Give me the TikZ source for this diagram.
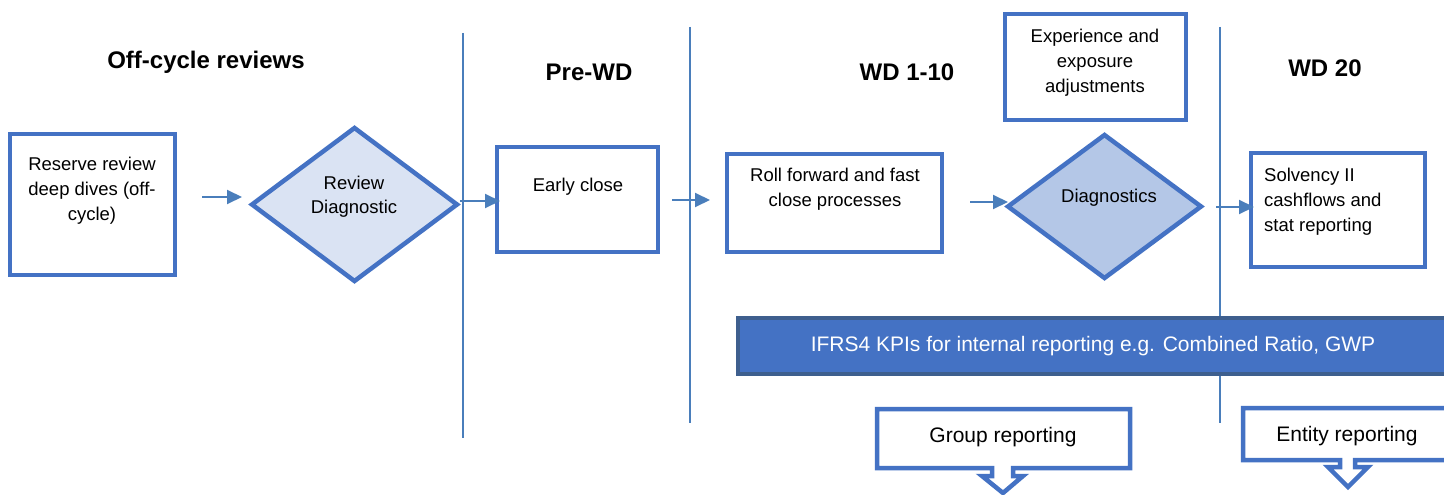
\documentclass[tikz,border=0pt]{standalone}
\usepackage{fontspec}
\setmainfont{Liberation Sans}
\usetikzlibrary{shapes.geometric,arrows.meta}
\definecolor{bord}{HTML}{4472C4}
\definecolor{lne}{HTML}{4A7EBB}
\definecolor{dfillA}{HTML}{DAE3F3}
\definecolor{dfillB}{HTML}{B4C7E7}
\definecolor{kpiedge}{HTML}{3E5F8E}
\tikzset{
 boxnode/.style={draw=bord, line width=4.5pt, rectangle, fill=white, inner sep=0pt, outer sep=0pt},
 dia/.style={draw=bord, line width=4.5pt, diamond, inner sep=0pt, outer sep=0pt},
 txt/.style={font=\fontsize{18.5}{25}\selectfont, align=center, inner sep=0pt},
 bigtxt/.style={font=\fontsize{21}{25}\selectfont, align=center, inner sep=0pt},
 head/.style={font=\fontsize{24}{28}\selectfont\bfseries, inner sep=0pt},
 arr/.style={draw=lne, line width=2pt, -{Triangle[length=15pt,width=14pt]}},
 divider/.style={draw=lne, line width=1.6pt},
 callout/.style={draw=bord, line width=4.5pt, fill=white, line join=miter},
}
\begin{document}
\begin{tikzpicture}[x=1pt,y=-1pt]
\useasboundingbox (0,0) rectangle (1444,495);
\clip (0,0) rectangle (1444,495);
\fill[white] (0,0) rectangle (1444,495);

% dividers
\draw[divider] (463,33) -- (463,438);
\draw[divider] (690,27) -- (690,423);
\draw[divider] (1220,27) -- (1220,423);

% headings
\node[head] (h1) at (206,62) {Off-cycle reviews};
\node[head] (h2) at (589,72) {Pre-WD};
\node[head] (h3) at (907,72) {WD 1-10};
\node[head] (h4) at (1325,68) {WD 20};

% boxes
\node[boxnode, minimum width=165pt, minimum height=141pt] (b1) at (92.5,204.5) {};
\node[txt] (t1) at (92,191) {Reserve review\\deep dives (off-\\cycle)};

\node[dia, fill=dfillA, minimum width=205pt, minimum height=153pt] (d1) at (354.5,204.5) {};
\node[txt, font=\fontsize{18.5}{24}\selectfont] (td1) at (354,197) {Review\\Diagnostic};

\node[boxnode, minimum width=161pt, minimum height=105pt] (e1) at (577.5,199.5) {};
\node[txt] (te1) at (578,187) {Early close};

\node[boxnode, minimum width=215pt, minimum height=98pt] (r1) at (834.5,203) {};
\node[txt] (tr1) at (835,189.5) {Roll forward and fast\\close processes};

\node[dia, fill=dfillB, minimum width=193pt, minimum height=143pt] (d2) at (1104.5,206.5) {};
\node[txt] (td2) at (1109,198) {Diagnostics};

\node[boxnode, minimum width=181pt, minimum height=106pt] (x1) at (1095.5,67) {};
\node[txt] (tx1) at (1095,63) {Experience and\\exposure\\adjustments};

\node[boxnode, minimum width=174pt, minimum height=114pt] (s1) at (1338,210) {};
\node[txt, align=left, anchor=west] (ts1) at (1264,202) {Solvency II\\cashflows and\\stat reporting};

% arrows
\draw[arr, shorten <=27pt, shorten >=10pt] ([yshift=7.5pt]b1.east) -- ([yshift=7.5pt]d1.west);
\draw[arr, shorten <=3pt, shorten >=-3pt] ([yshift=3.5pt]d1.east) -- ([yshift=-1.5pt]e1.west);
\draw[arr, shorten <=14pt, shorten >=17pt] ([yshift=-0.5pt]e1.east) -- ([yshift=3pt]r1.west);
\draw[arr, shorten <=28pt, shorten >=0pt] ([yshift=1pt]r1.east) -- ([yshift=4.5pt]d2.west);
\draw[arr, shorten <=15pt, shorten >=-3pt] ([yshift=-0.5pt]d2.east) -- ([yshift=3pt]s1.west);

% KPI bar
\node[draw=kpiedge, fill=bord, line width=4pt, rectangle, inner sep=0pt, outer sep=0pt,
      minimum width=710pt, minimum height=56pt, text=white, bigtxt] (kpi) at (1093,346)
      {IFRS4 KPIs for internal reporting e.g. Combined Ratio, GWP};

% callouts
\draw[callout] (877,409) -- (1130,409) -- (1130,468) -- (1013,468) -- (1013,476) -- (1023,476)
  -- (1003,493) -- (982,476) -- (992,476) -- (992,468) -- (877,468) -- cycle;
\node[bigtxt] (g1) at (1003,437) {Group reporting};

\draw[callout] (1243,408) -- (1470,408) -- (1470,460) -- (1355,460) -- (1355,467) -- (1368,467)
  -- (1348,487) -- (1328,467) -- (1340,467) -- (1340,460) -- (1243,460) -- cycle;
\node[bigtxt] (g2) at (1347,436) {Entity reporting};
\end{tikzpicture}
\end{document}
